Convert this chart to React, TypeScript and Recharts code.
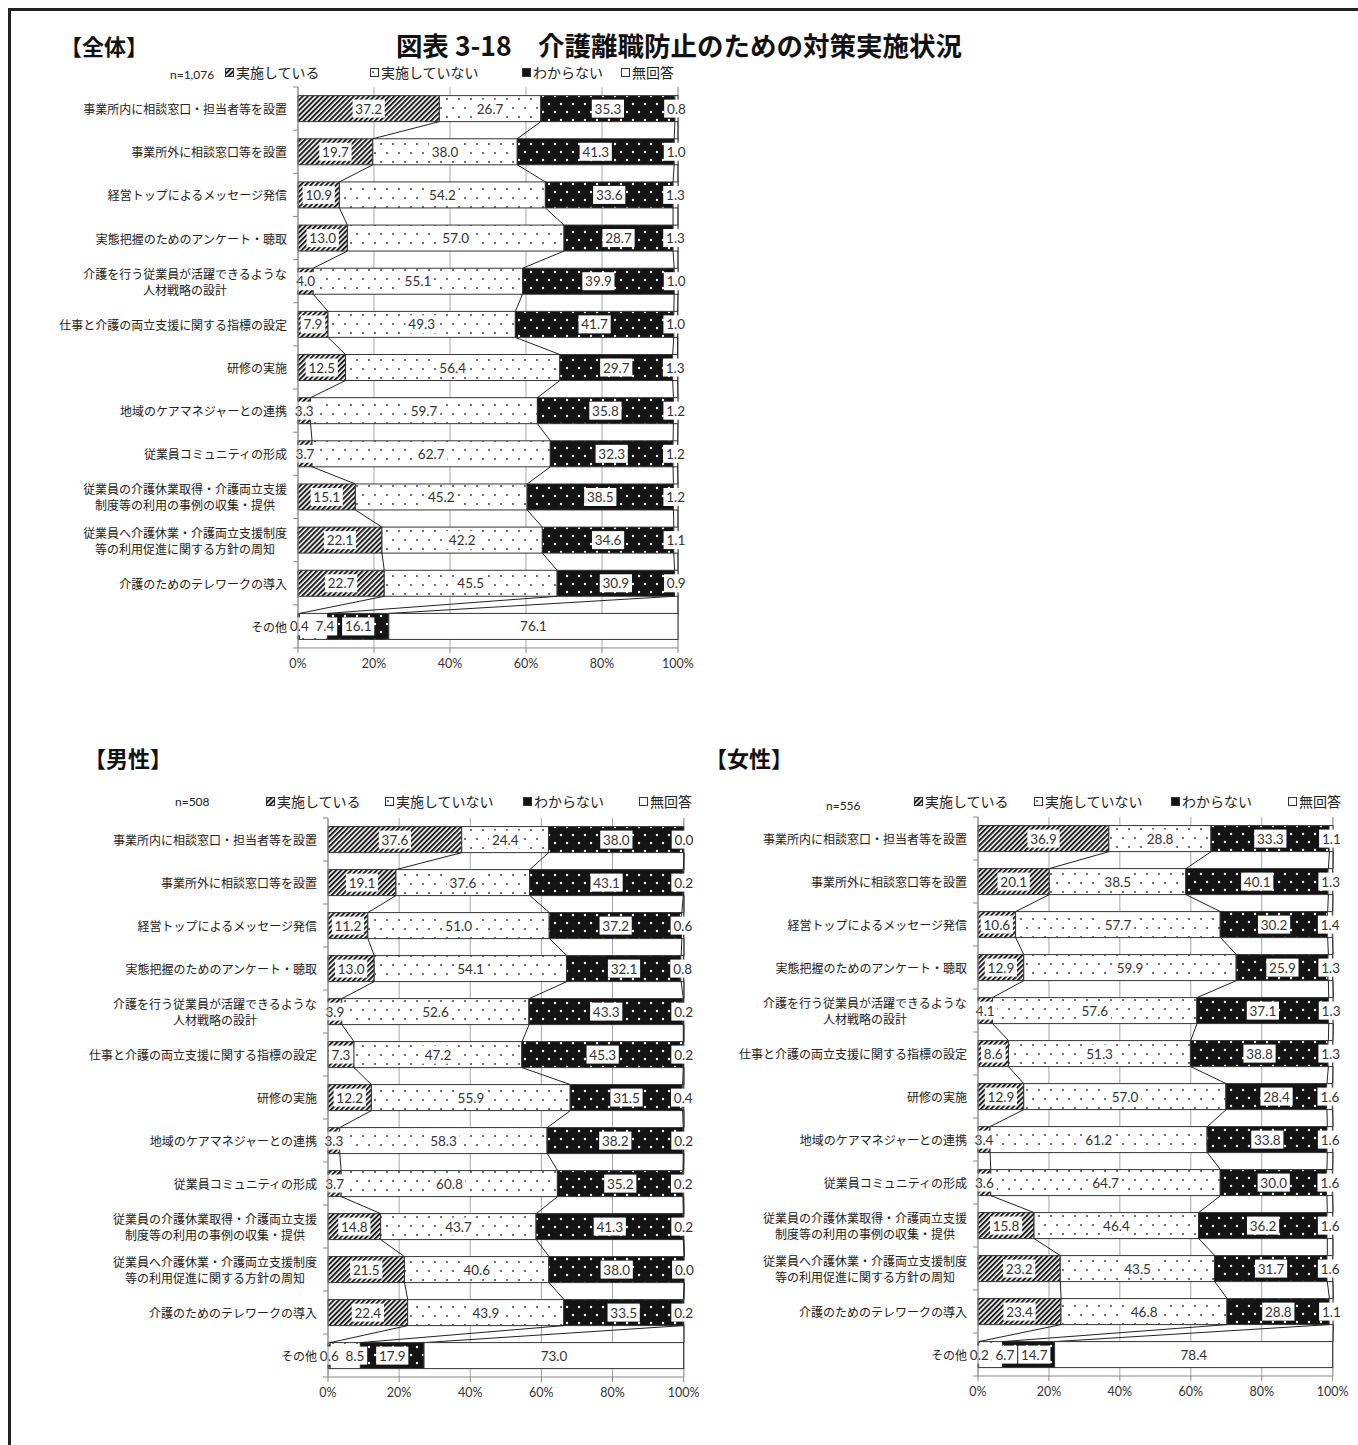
import React from 'react';
import { BarChart, Bar, XAxis, YAxis, CartesianGrid } from 'recharts';

// categories (shared by all three panels)
const categories = [
  '事業所内に相談窓口・担当者等を設置',
  '事業所外に相談窓口等を設置',
  '経営トップによるメッセージ発信',
  '実態把握のためのアンケート・聴取',
  '介護を行う従業員が活躍できるような\n人材戦略の設計',
  '仕事と介護の両立支援に関する指標の設定',
  '研修の実施',
  '地域のケアマネジャーとの連携',
  '従業員コミュニティの形成',
  '従業員の介護休業取得・介護両立支援\n制度等の利用の事例の収集・提供',
  '従業員へ介護休業・介護両立支援制度\n等の利用促進に関する方針の周知',
  '介護のためのテレワークの導入',
  'その他',
];

const seriesNames = ['実施している', '実施していない', 'わからない', '無回答'];
const xTicks = [0, 20, 40, 60, 80, 100];

// 全体 n=1,076
const allDoing = [37.2, 19.7, 10.9, 13.0, 4.0, 7.9, 12.5, 3.3, 3.7, 15.1, 22.1, 22.7, 0.4];
const allNotDoing = [26.7, 38.0, 54.2, 57.0, 55.1, 49.3, 56.4, 59.7, 62.7, 45.2, 42.2, 45.5, 7.4];
const allUnknown = [35.3, 41.3, 33.6, 28.7, 39.9, 41.7, 29.7, 35.8, 32.3, 38.5, 34.6, 30.9, 16.1];
const allNoAnswer = [0.8, 1.0, 1.3, 1.3, 1.0, 1.0, 1.3, 1.2, 1.2, 1.2, 1.1, 0.9, 76.1];

// 男性 n=508
const maleDoing = [37.6, 19.1, 11.2, 13.0, 3.9, 7.3, 12.2, 3.3, 3.7, 14.8, 21.5, 22.4, 0.6];
const maleNotDoing = [24.4, 37.6, 51.0, 54.1, 52.6, 47.2, 55.9, 58.3, 60.8, 43.7, 40.6, 43.9, 8.5];
const maleUnknown = [38.0, 43.1, 37.2, 32.1, 43.3, 45.3, 31.5, 38.2, 35.2, 41.3, 38.0, 33.5, 17.9];
const maleNoAnswer = [0.0, 0.2, 0.6, 0.8, 0.2, 0.2, 0.4, 0.2, 0.2, 0.2, 0.0, 0.2, 73.0];

// 女性 n=556
const femaleDoing = [36.9, 20.1, 10.6, 12.9, 4.1, 8.6, 12.9, 3.4, 3.6, 15.8, 23.2, 23.4, 0.2];
const femaleNotDoing = [28.8, 38.5, 57.7, 59.9, 57.6, 51.3, 57.0, 61.2, 64.7, 46.4, 43.5, 46.8, 6.7];
const femaleUnknown = [33.3, 40.1, 30.2, 25.9, 37.1, 38.8, 28.4, 33.8, 30.0, 36.2, 31.7, 28.8, 14.7];
const femaleNoAnswer = [1.1, 1.3, 1.4, 1.3, 1.3, 1.3, 1.6, 1.6, 1.6, 1.6, 1.6, 1.1, 78.4];

type Row = { name: string; s0: number; s1: number; s2: number; s3: number };

function makeRows(a: number[], b: number[], c: number[], d: number[]): Row[] {
  return categories.map((name, i) => ({ name, s0: a[i], s1: b[i], s2: c[i], s3: d[i] }));
}

const JP = '"Noto Sans CJK JP", "Noto Sans", sans-serif';
const NUM = 'Lato, "Open Sans", sans-serif';
const EDGE = '#333';

// rough width of a number label in Lato 13.5px
const numWidth = (s: string) => s.replace('.', '').length * 7.6 + 3.4;

function PatternDefs() {
  return (
    <svg width={0} height={0} style={{ position: 'absolute' }}>
      <defs>
        <pattern id="hatch" patternUnits="userSpaceOnUse" width={3.6} height={3.6} patternTransform="rotate(45)">
          <rect width={3.6} height={3.6} fill="#fff" />
          <rect x={0} width={2} height={3.6} fill="#1e1e1e" />
        </pattern>
        <pattern id="dots" patternUnits="userSpaceOnUse" width={12} height={18}>
          <rect width={12} height={18} fill="#fff" />
          <circle cx={3} cy={4} r={1} fill="#444" />
          <circle cx={9} cy={13} r={1} fill="#444" />
        </pattern>
        <pattern id="bdots" patternUnits="userSpaceOnUse" width={12} height={16}>
          <rect width={12} height={16} fill="#141414" />
          <circle cx={3} cy={3} r={1.2} fill="#fff" />
          <circle cx={9} cy={11} r={1.2} fill="#fff" />
        </pattern>
      </defs>
    </svg>
  );
}

const fills = ['url(#hatch)', 'url(#dots)', 'url(#bdots)', '#fff'];

interface StackProps {
  rows: Row[];
  left: number;
  plotLeft: number;
  plotWidth: number;
  plotTop: number;
  band: number;
}

function StackChart({ rows, left, plotLeft, plotWidth, plotTop, band }: StackProps) {
  const MT = 10;
  const XH = 30;
  const MB = 4;
  const MR = 20;
  const axisW = plotLeft - left;
  const n = rows.length;
  const width = axisW + plotWidth + MR;
  const height = MT + band * n + XH + MB;

  const CatTick = (p: any) => {
    const { y, payload, index } = p;
    const lines = String(payload.value).split('\n');
    const right = axisW - 11;
    const maxLen = Math.max(...lines.map((l) => l.length));
    const cx = right - (maxLen * 12) / 2;
    return (
      <g>
        <line x1={axisW - 5} x2={axisW} y1={y - band / 2} y2={y - band / 2} stroke="#888" />
        {index === n - 1 && (
          <line x1={axisW - 5} x2={axisW} y1={y + band / 2} y2={y + band / 2} stroke="#888" />
        )}
        {lines.map((l, j) => (
          <text
            key={j}
            x={lines.length > 1 ? cx : right}
            y={y + (j - (lines.length - 1) / 2) * 16}
            textAnchor={lines.length > 1 ? 'middle' : 'end'}
            dominantBaseline="central"
            fontSize={12}
            fontFamily={JP}
            fill="#222"
          >
            {l}
          </text>
        ))}
      </g>
    );
  };

  // last segment: draws its rect, all value labels of the row and the series lines to the next row
  const LastShape = (p: any) => {
    const { x, y, width: w, height: h, index, background } = p;
    const bx = background && Number.isFinite(background.x) ? background.x : axisW;
    const bw = background && background.width > 0 ? background.width : plotWidth;
    const px = (v: number) => bx + (v / 100) * bw;
    const row = rows[index];
    const vals = [row.s0, row.s1, row.s2, row.s3];
    const cum: number[] = [];
    vals.reduce((acc, v) => {
      cum.push(acc + v);
      return acc + v;
    }, 0);
    const next = rows[index + 1];
    const ncum: number[] = [];
    if (next) {
      [next.s0, next.s1, next.s2, next.s3].reduce((acc, v) => {
        ncum.push(acc + v);
        return acc + v;
      }, 0);
    }
    const cy = y + h / 2;
    let prevRight = bx - 12;
    const labels = vals.map((v, k) => {
      const start = k === 0 ? 0 : cum[k - 1];
      const txt = v.toFixed(1);
      const lw = numWidth(txt) + 6;
      let c = px(start + v / 2);
      if (c - lw / 2 < prevRight + 1) c = prevRight + 1 + lw / 2;
      prevRight = c + lw / 2;
      return (
        <g key={k}>
          <rect x={c - lw / 2} y={cy - 9} width={lw} height={18} fill="#fff" />
          <text x={c} y={cy} textAnchor="middle" dominantBaseline="central" fontSize={13.5} fontFamily={NUM} fill="#333">
            {txt}
          </text>
        </g>
      );
    });
    return (
      <g>
        {w > 0 && <rect x={x} y={y} width={w} height={h} fill="#fff" stroke={EDGE} strokeWidth={1} />}
        {next &&
          cum.map((c, k) => (
            <line key={k} x1={px(c)} y1={y + h} x2={px(ncum[k])} y2={y + band} stroke="#222" strokeWidth={1} />
          ))}
        {labels}
      </g>
    );
  };

  return (
    <div style={{ position: 'absolute', left, top: plotTop - MT }}>
      <BarChart
        width={width}
        height={height}
        data={rows}
        layout="vertical"
        margin={{ top: MT, right: MR, bottom: MB, left: 0 }}
        barCategoryGap="20%"
      >
        <CartesianGrid horizontal={false} stroke="#a6a6a6" />
        <XAxis
          type="number"
          domain={[0, 100]}
          ticks={xTicks}
          interval={0}
          tickFormatter={(v) => `${v}%`}
          axisLine={{ stroke: '#888' }}
          tickLine={{ stroke: '#888' }}
          tickSize={5}
          tickMargin={6}
          tick={{ fontSize: 12.5, fill: '#333', fontFamily: NUM }}
          height={XH}
        />
        <YAxis
          type="category"
          dataKey="name"
          width={axisW}
          interval={0}
          axisLine={{ stroke: '#888' }}
          tickLine={false}
          tick={CatTick}
        />
        <Bar dataKey="s0" stackId="a" fill={fills[0]} stroke={EDGE} strokeWidth={1} isAnimationActive={false} />
        <Bar dataKey="s1" stackId="a" fill={fills[1]} stroke={EDGE} strokeWidth={1} isAnimationActive={false} />
        <Bar dataKey="s2" stackId="a" fill={fills[2]} stroke={EDGE} strokeWidth={1} isAnimationActive={false} />
        <Bar dataKey="s3" stackId="a" fill={fills[3]} shape={LastShape} isAnimationActive={false} />
      </BarChart>
    </div>
  );
}

function Swatch({ k }: { k: number }) {
  return (
    <svg width={9} height={9} style={{ marginRight: 2 }}>
      <rect x={0.5} y={0.5} width={8} height={8} fill={k === 2 ? '#141414' : fills[k]} stroke={EDGE} strokeWidth={1} />
    </svg>
  );
}

function LegendRow({ xs, y, nText, nX, nY }: { xs: number[]; y: number; nText: string; nX: number; nY: number }) {
  return (
    <>
      <div style={{ position: 'absolute', left: nX, top: nY - 9, lineHeight: '18px', fontSize: 12, fontFamily: NUM, color: '#222' }}>
        {nText}
      </div>
      {seriesNames.map((s, k) => (
        <div
          key={s}
          style={{
            position: 'absolute',
            left: xs[k],
            top: y - 9,
            height: 18,
            display: 'flex',
            alignItems: 'center',
            fontSize: 14,
            fontFamily: JP,
            color: '#222',
            whiteSpace: 'nowrap',
          }}
        >
          <Swatch k={k} />
          {s}
        </div>
      ))}
    </>
  );
}

function Heading({ text, x, y }: { text: string; x: number; y: number }) {
  return (
    <div style={{ position: 'absolute', left: x, top: y - 14, lineHeight: '28px', fontSize: 22, fontWeight: 700, fontFamily: JP, color: '#111' }}>
      {text}
    </div>
  );
}

export default function App() {
  const all = makeRows(allDoing, allNotDoing, allUnknown, allNoAnswer);
  const male = makeRows(maleDoing, maleNotDoing, maleUnknown, maleNoAnswer);
  const female = makeRows(femaleDoing, femaleNotDoing, femaleUnknown, femaleNoAnswer);

  return (
    <div style={{ position: 'absolute', left: 0, top: 0, width: 1358, height: 1445, overflow: 'hidden', background: '#fff', fontFamily: JP }}>
      <PatternDefs />
      <div style={{ position: 'absolute', left: 8, top: 8, width: 1350, height: 1437, borderLeft: '3px solid #222', borderTop: '3px solid #222' }} />
      <div
        style={{
          position: 'absolute',
          left: 0,
          top: 45 - 15,
          width: 1358,
          textAlign: 'center',
          lineHeight: '30px',
          fontSize: 26.5,
          fontWeight: 700,
          fontFamily: JP,
          color: '#111',
        }}
      >
        図表 3-18　介護離職防止のための対策実施状況
      </div>

      <Heading text="【全体】" x={60} y={45} />
      <LegendRow xs={[225, 370, 522, 621]} y={72} nText="n=1,076" nX={170} nY={75} />
      <StackChart rows={all} left={0} plotLeft={298} plotWidth={380} plotTop={86.5} band={43.15} />

      <Heading text="【男性】" x={84} y={757} />
      <LegendRow xs={[266, 385, 523, 639]} y={801} nText="n=508" nX={175} nY={802} />
      <StackChart rows={male} left={0} plotLeft={328} plotWidth={356} plotTop={817.5} band={43} />

      <Heading text="【女性】" x={705} y={757} />
      <LegendRow xs={[914, 1034, 1171, 1288]} y={801} nText="n=556" nX={826} nY={806} />
      <StackChart rows={female} left={706} plotLeft={978} plotWidth={355} plotTop={816.5} band={43} />
    </div>
  );
}
